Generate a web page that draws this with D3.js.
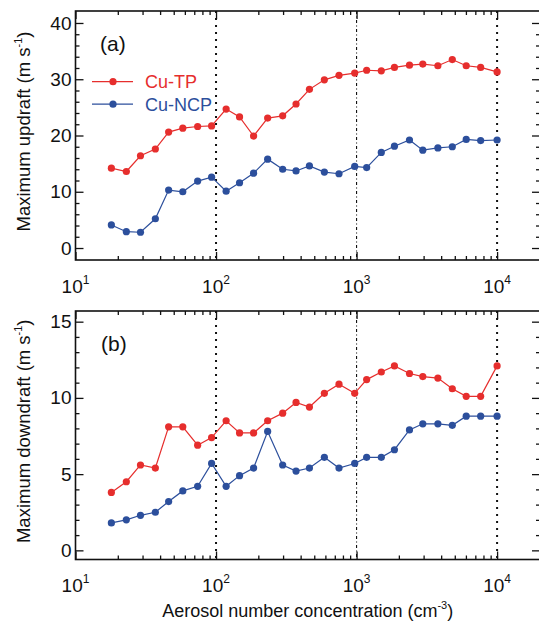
<!DOCTYPE html>
<html>
<head>
<meta charset="utf-8">
<script src="https://cdn.jsdelivr.net/npm/d3@7"></script>
<style>
body { margin: 0; background: #fff; }
svg { display: block; font-family: "Liberation Sans", Arial, sans-serif; }
</style>
</head>
<body>
<div id="viz"></div>
<script>
// aerosol number concentration (cm-3), shared by both panels
const conc = [18, 23, 29, 37, 46, 58, 74, 93, 118, 147, 185, 233, 298, 371,
              462, 590, 750, 970, 1180, 1500, 1860, 2380, 2960, 3790, 4800, 6030, 7640, 10000];

const updraftTP  = [14.2, 13.6, 16.4, 17.6, 20.6, 21.3, 21.6, 21.7, 24.7, 23.3, 19.9, 23.1, 23.5, 25.6,
                    28.2, 29.9, 30.7, 31.1, 31.6, 31.5, 32.1, 32.5, 32.7, 32.4, 33.5, 32.4, 32.1, 31.3];
const updraftNCP = [4.1, 2.9, 2.8, 5.2, 10.3, 10.0, 11.9, 12.6, 10.1, 11.6, 13.3, 15.8, 14.0, 13.7,
                    14.6, 13.5, 13.2, 14.5, 14.3, 17.0, 18.1, 19.2, 17.4, 17.8, 18.0, 19.3, 19.1, 19.2];

const downdraftTP  = [3.8, 4.5, 5.6, 5.4, 8.1, 8.1, 6.9, 7.4, 8.5, 7.7, 7.7, 8.5, 9.0, 9.7,
                      9.4, 10.3, 10.9, 10.3, 11.2, 11.7, 12.1, 11.6, 11.4, 11.3, 10.6, 10.1, 10.1, 12.1];
const downdraftNCP = [1.8, 2.0, 2.3, 2.5, 3.2, 3.9, 4.2, 5.7, 4.2, 4.9, 5.4, 7.8, 5.6, 5.2,
                      5.4, 6.1, 5.4, 5.7, 6.1, 6.1, 6.6, 7.9, 8.3, 8.3, 8.2, 8.8, 8.8, 8.8];

const decades = [10, 100, 1000, 10000];
const decadeExp = ["1", "2", "3", "4"];
const dottedAt = [100, 1000, 10000];
const updraftTicks = [0, 10, 20, 30, 40];
const downdraftTicks = [0, 5, 10, 15];
const seriesNames = ["Cu-TP", "Cu-NCP"];

const red = "#e62e2d", blue = "#2c4f9c";
const W = 539, H = 621;
const xLeft = 75.5, xRight = 540;

const svg = d3.select("#viz").append("svg")
    .attr("width", W)
    .attr("height", H);

const x = d3.scaleLog().domain([10, 20200]).range([xLeft, xRight]);
const minorX = x.ticks().filter(d => !decades.includes(d));

function drawPanel(cfg) {
    const y = cfg.y;
    const top = y.range()[1], bottom = y.range()[0];
    const g = svg.append("g");

    // vertical dotted reference lines
    dottedAt.forEach(d => {
        const thin = d === 1000;
        g.append("line")
            .attr("x1", x(d)).attr("x2", x(d))
            .attr("y1", top).attr("y2", bottom)
            .attr("stroke", "#111")
            .attr("stroke-width", thin ? 1.1 : 2)
            .attr("stroke-dasharray", thin ? "3,2.5,1,2.5" : "2,5");
    });

    // series
    const line = d3.line().x((d, i) => x(conc[i])).y(d => y(d));
    [[cfg.tp, red], [cfg.ncp, blue]].forEach(([vals, col]) => {
        g.append("path")
            .datum(vals)
            .attr("d", line)
            .attr("fill", "none")
            .attr("stroke", col)
            .attr("stroke-width", 1.2);
        g.selectAll(null)
            .data(vals)
            .join("circle")
            .attr("cx", (d, i) => x(conc[i]))
            .attr("cy", d => y(d))
            .attr("r", 3.6)
            .attr("fill", col);
    });

    // axes, ticks point inward
    const minorY = y.ticks(cfg.minorCount).filter(d => !cfg.ticks.includes(d) && d >= 0 && d <= cfg.ticks[cfg.ticks.length - 1]);
    const axes = [
        [d3.axisLeft(y).tickValues(cfg.ticks).tickSize(-8), `translate(${xLeft},0)`, true],
        [d3.axisLeft(y).tickValues(minorY).tickSize(-4), `translate(${xLeft},0)`, false],
        [d3.axisRight(y).tickValues(cfg.ticks).tickSize(-8), `translate(${xRight},0)`, false],
        [d3.axisRight(y).tickValues(minorY).tickSize(-4), `translate(${xRight},0)`, false],
        [d3.axisBottom(x).tickValues(decades).tickSize(-8), `translate(0,${bottom})`, false],
        [d3.axisBottom(x).tickValues(minorX).tickSize(-4), `translate(0,${bottom})`, false],
        [d3.axisTop(x).tickValues(decades).tickSize(-8), `translate(0,${top})`, false],
        [d3.axisTop(x).tickValues(minorX).tickSize(-4), `translate(0,${top})`, false]
    ];
    axes.forEach(([ax, tr, labels]) => {
        ax.tickSizeOuter(0).tickPadding(4);
        if (!labels) ax.tickFormat("");
        else ax.tickFormat(d3.format("d"));
        const a = g.append("g").attr("transform", tr).call(ax);
        a.select(".domain").remove();
        a.selectAll("line").attr("stroke", "#111").attr("stroke-width", 1.3);
        a.attr("font-family", null).attr("font-size", 19);
        a.selectAll("text").attr("fill", "#111");
    });

    // frame
    g.append("rect")
        .attr("x", xLeft).attr("y", top)
        .attr("width", xRight - xLeft).attr("height", bottom - top)
        .attr("fill", "none")
        .attr("stroke", "#111")
        .attr("stroke-width", 1.6);

    // x tick labels 10^n
    decades.forEach((d, i) => {
        const t = g.append("text")
            .attr("x", x(d))
            .attr("y", cfg.xLabelY)
            .attr("text-anchor", "middle")
            .attr("font-size", 19)
            .attr("fill", "#111");
        t.append("tspan").text("10");
        t.append("tspan").attr("dy", -9).attr("font-size", 12).text(decadeExp[i]);
    });

    // y title
    const yt = g.append("text")
        .attr("transform", `translate(30,${(top + bottom) / 2 - 4}) rotate(-90)`)
        .attr("text-anchor", "middle")
        .attr("font-size", 18.5)
        .attr("fill", "#111");
    yt.append("tspan").text(cfg.title + " (m s");
    yt.append("tspan").attr("dy", -8).attr("font-size", 11).text("-1");
    yt.append("tspan").attr("dy", 8).text(")");

    // panel tag
    g.append("text")
        .attr("x", cfg.tagX).attr("y", top + 40)
        .attr("font-size", 21)
        .attr("fill", "#111")
        .text(cfg.tag);
}

drawPanel({
    y: d3.scaleLinear().domain([-2.13, 42.13]).range([260, 11]),
    ticks: updraftTicks, minorCount: 20,
    tp: updraftTP, ncp: updraftNCP,
    title: "Maximum updraft", tag: "(a)", tagX: 100, xLabelY: 293
});

drawPanel({
    y: d3.scaleLinear().domain([-0.6, 15.7]).range([559.5, 311]),
    ticks: downdraftTicks, minorCount: 15,
    tp: downdraftTP, ncp: downdraftNCP,
    title: "Maximum downdraft", tag: "(b)", tagX: 101, xLabelY: 592
});

// legend in panel (a)
[red, blue].forEach((col, i) => {
    const ly = 81.7 + i * 22.5;
    svg.append("line")
        .attr("x1", 92).attr("x2", 133)
        .attr("y1", ly).attr("y2", ly)
        .attr("stroke", col).attr("stroke-width", 1.2);
    svg.append("circle")
        .attr("cx", 113).attr("cy", ly).attr("r", 3.6).attr("fill", col);
    svg.append("text")
        .attr("x", 145).attr("y", ly + 6.5)
        .attr("font-size", 18)
        .attr("fill", col)
        .text(seriesNames[i]);
});

// x axis title
const xt = svg.append("text")
    .attr("x", (xLeft + xRight) / 2)
    .attr("y", 617)
    .attr("text-anchor", "middle")
    .attr("font-size", 18)
    .attr("fill", "#111");
xt.append("tspan").text("Aerosol number concentration (cm");
xt.append("tspan").attr("dy", -8).attr("font-size", 11).text("-3");
xt.append("tspan").attr("dy", 8).text(")");
</script>
</body>
</html>
